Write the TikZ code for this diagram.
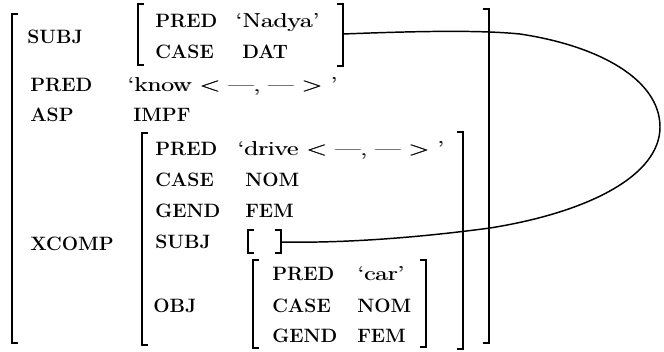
\documentclass[tikz,border=0pt]{standalone}
\usepackage{fontspec}
\usepackage{graphicx}
\usetikzlibrary{calc}
% values: a horizontally widened roman, struck twice for a heavier stroke
\newcommand{\widev}[1]{\scalebox{1.36}[1]{\rlap{#1}\kern0.45pt#1}}
\tikzset{
  feat/.style={anchor=base west, inner sep=0pt,
    font=\fontsize{14.5}{17}\selectfont\bfseries},
  val/.style={anchor=base west, inner sep=0pt,
    font=\fontsize{15}{18}\selectfont},
  valb/.style={feat},
  brk/.style={line width=1.4pt},
  link/.style={line width=1.1pt}
}
% left bracket: x, top, bottom ; right bracket likewise
\newcommand{\lbrk}[3]{\draw[brk] (#1+6,#2) -- (#1,#2) -- (#1,#3) -- (#1+6,#3);}
\newcommand{\rbrk}[3]{\draw[brk] (#1-6,#2) -- (#1,#2) -- (#1,#3) -- (#1-6,#3);}
\begin{document}
\begin{tikzpicture}[x=0.75pt, y=-0.75pt]
\useasboundingbox (0,0) rectangle (664,351);

% outer structure
\lbrk{12}{14}{343}
\rbrk{489}{9}{343}
\node[feat] (subj) at (27,43) {SUBJ};
\node[feat] (pred) at (30,91) {PRED};
\node[feat] (asp) at (30,121) {ASP};
\node[feat] (xcomp) at (30,250) {XCOMP};
\node[val] (predv) at (127,91) {\widev{`know < ---, --- > '}};
\node[valb] (aspv) at (133,121) {IMPF};

% SUBJ value
\lbrk{138}{4}{65}
\rbrk{343}{4}{66}
\node[feat] (spred) at (155,27) {PRED};
\node[val] (spredv) at (235,27) {\widev{`Nadya'}};
\node[feat] (scase) at (155,58) {CASE};
\node[valb] (scasev) at (242,58) {DAT};

% XCOMP value
\lbrk{142}{133}{345}
\rbrk{463}{132}{349}
\node[feat] (xpred) at (155,155) {PRED};
\node[val] (xpredv) at (237,155) {\widev{`drive < ---, --- > '}};
\node[feat] (xcase) at (155,186) {CASE};
\node[valb] (xcasev) at (245,186) {NOM};
\node[feat] (xgend) at (155,217) {GEND};
\node[valb] (xgendv) at (245,217) {FEM};
\node[feat] (xsubj) at (155,248) {SUBJ};
\node[feat] (xobj) at (153,312) {OBJ};

% empty SUBJ
\lbrk{248}{230}{253}
\rbrk{281}{230}{253}

% OBJ value
\lbrk{253}{260}{348}
\rbrk{426}{260}{347}
\node[feat] (opred) at (272,280) {PRED};
\node[val] (opredv) at (357,280) {\widev{`car'}};
\node[feat] (ocase) at (272,312) {CASE};
\node[valb] (ocasev) at (357,312) {NOM};
\node[feat] (ogend) at (272,342) {GEND};
\node[valb] (ogendv) at (357,342) {FEM};

% structure-sharing link
\coordinate (subjR) at (343,34);
\coordinate (emptyR) at (281,242);
\draw[link] (subjR) .. controls (420,31) and (480,30) .. (520,34)
  .. controls (600,46) and (660,80) .. (660,127)
  .. controls (660,175) and (590,212) .. (490,228)
  .. controls (400,240) and (330,243) .. (emptyR);
\end{tikzpicture}
\end{document}
